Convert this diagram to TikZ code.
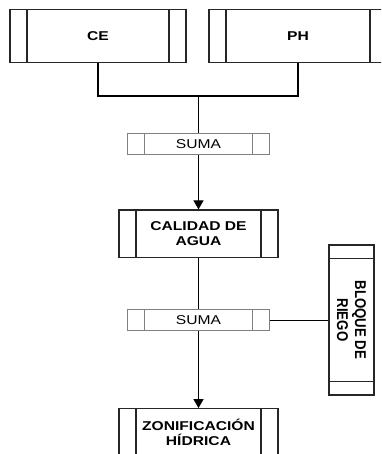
\documentclass[tikz,border=0pt]{standalone}
\usepackage{fontspec}
\setmainfont{Liberation Sans}[FakeStretch=1.22]
\newfontfamily\verfont{Liberation Sans}[FakeStretch=0.85]
\usetikzlibrary{arrows.meta}

\tikzset{
  barras/.style={path picture={
      \draw[#1] ([xshift=17pt]path picture bounding box.north west) -- ([xshift=17pt]path picture bounding box.south west)
        ([xshift=-17pt]path picture bounding box.north east) -- ([xshift=-17pt]path picture bounding box.south east);}},
  caja/.style={draw=black!85, line width=1.1pt, minimum width=#1, inner sep=0pt, align=center,
    font={\bfseries\fontsize{12.8}{15}\selectfont}, barras={black!85, line width=1.1pt}},
  suma/.style={draw=gray, line width=0.8pt, minimum width=142pt, minimum height=21.4pt, inner sep=0pt,
    font={\fontsize{12.8}{15}\selectfont}, barras={gray, line width=0.8pt}},
  linea/.style={draw=black, line width=1.1pt},
  flecha/.style={linea, -{Triangle[length=9pt, width=10pt]}}
}

\begin{document}
\begin{tikzpicture}[x=1pt, y=-1pt]
  \useasboundingbox (0,0) rectangle (381,454);
  \clip (0,0) rectangle (381,454);
  % Boxes:
  \node[caja=176pt, minimum height=53.5pt] (ce) at (98,36) {CE};
  \node[caja=178pt, minimum height=53.5pt] (ph) at (298,36) {PH};
  \node[suma] (suma1) at (198.5,144) {SUMA};
  \node[caja=159pt, minimum height=47.7pt] (calidad) at (198.5,233.8) {CALIDAD DE\\AGUA};
  \node[suma] (suma2) at (198.5,320) {SUMA};
  \node[caja=159pt, minimum height=47.7pt] (zonif) at (198.5,432.5) {ZONIFICACIÓN\\HÍDRICA};
  \node[draw=black!85, line width=1.1pt, rotate=-90, minimum width=150pt, minimum height=45pt, inner sep=0pt,
    align=center, font={\verfont\bfseries\fontsize{15.6}{18}\selectfont}] (bloque) at (351.5,320) {BLOQUE DE\\RIEGO};
  \draw[black!85, line width=1.1pt] ([yshift=-14.4pt]bloque.south west) -- ([yshift=-14.4pt]bloque.north west)
    ([yshift=14.4pt]bloque.south east) -- ([yshift=14.4pt]bloque.north east);
  % Connectors:
  \coordinate (union) at (198.5,96);
  \draw[linea] (ce.south) |- (union) -| (ph.south);
  \draw[linea] (union) -- (suma1.north);
  \draw[flecha] (suma1) -- (calidad);
  \draw[linea] (calidad) -- (suma2);
  \draw[flecha] (suma2) -- (zonif);
  \draw[linea, line width=0.8pt] (suma2) -- (bloque);
\end{tikzpicture}
\end{document}
